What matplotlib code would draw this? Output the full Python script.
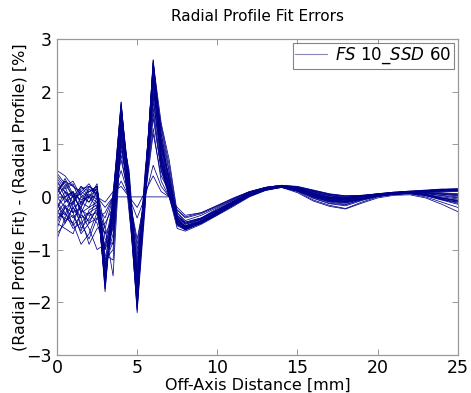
import matplotlib
matplotlib.use("Agg")
import matplotlib.pyplot as plt

# Off-axis distance knots [mm]
x_mm = [0, 0.5, 1, 1.5, 2, 2.5, 3, 3.5, 4, 4.5, 5, 5.5, 6, 6.5, 7, 7.5, 8,
        9, 10, 11, 12, 13, 14, 15, 16, 17, 18, 19, 20, 21, 22, 23, 24, 25]

err_01 = [0.10, 0.30, 0.00, -0.20, 0.20, 0.10, -1.80, 0.00, 1.80, 0.00, -2.20, 0.20, 2.60, 0.90, 0.10, -0.55, -0.62, -0.45, -0.30, -0.12, 0.05, 0.15, 0.20, 0.15, 0.05, -0.02, -0.05, 0.00, 0.05, 0.08, 0.10, 0.10, 0.12, 0.12]
err_02 = [-0.20, 0.10, -0.30, 0.00, -0.10, 0.20, -1.60, -0.20, 1.75, 0.20, -2.00, 0.00, 2.50, 1.00, 0.20, -0.50, -0.62, -0.50, -0.32, -0.15, 0.02, 0.14, 0.20, 0.16, 0.06, -0.04, -0.06, 0.00, 0.04, 0.07, 0.10, 0.08, 0.05, 0.02]
err_03 = [0.50, 0.40, 0.20, 0.10, 0.00, 0.15, -0.60, -1.50, 1.20, 0.30, -1.80, 0.30, 2.20, 1.30, 0.50, -0.40, -0.58, -0.48, -0.28, -0.10, 0.06, 0.16, 0.21, 0.17, 0.10, 0.03, -0.02, 0.02, 0.06, 0.09, 0.11, 0.13, 0.15, 0.15]
err_04 = [-0.80, -0.40, -0.50, -0.90, -0.70, -0.30, -1.20, -0.30, 1.50, 0.40, -1.90, -0.10, 2.30, 0.70, 0.00, -0.60, -0.65, -0.52, -0.35, -0.18, 0.00, 0.12, 0.18, 0.12, 0.00, -0.08, -0.10, -0.03, 0.02, 0.05, 0.06, 0.03, -0.05, -0.10]
err_05 = [0.00, -0.20, -0.10, 0.10, 0.25, 0.00, -1.00, -0.60, 1.60, 0.10, -1.60, 0.40, 2.40, 0.60, 0.00, -0.45, -0.55, -0.42, -0.25, -0.08, 0.08, 0.18, 0.22, 0.14, -0.02, -0.12, -0.15, -0.05, 0.03, 0.06, 0.08, 0.05, -0.02, -0.08]
err_06 = [-0.40, -0.30, -0.60, -0.50, -0.30, -0.20, -1.40, 0.10, 1.40, -0.20, -2.10, 0.00, 2.00, 1.10, 0.30, -0.50, -0.60, -0.50, -0.34, -0.16, 0.01, 0.13, 0.19, 0.10, -0.06, -0.16, -0.22, -0.10, 0.00, 0.05, 0.06, 0.00, -0.10, -0.20]
err_07 = [0.30, 0.00, 0.10, -0.30, -0.20, 0.10, -0.80, -0.90, 1.00, 0.00, -1.40, 0.20, 1.80, 0.80, 0.20, -0.35, -0.50, -0.40, -0.22, -0.06, 0.08, 0.17, 0.21, 0.18, 0.11, 0.04, 0.00, 0.02, 0.05, 0.08, 0.10, 0.12, 0.14, 0.15]
err_08 = [-0.10, -0.50, -0.20, -0.40, -0.90, -0.60, -0.50, -0.20, 0.80, -0.10, -1.20, 0.10, 1.60, 0.50, 0.00, -0.40, -0.55, -0.45, -0.30, -0.13, 0.04, 0.15, 0.20, 0.13, 0.02, -0.06, -0.08, -0.02, 0.03, 0.07, 0.09, 0.07, 0.02, -0.02]
err_09 = [0.20, 0.10, -0.10, 0.20, 0.00, -0.10, -1.50, -0.40, 1.70, 0.30, -1.70, 0.30, 2.55, 1.40, 0.70, -0.30, -0.48, -0.40, -0.25, -0.10, 0.06, 0.16, 0.20, 0.15, 0.05, -0.03, -0.04, 0.01, 0.05, 0.08, 0.10, 0.09, 0.08, 0.06]
err_10 = [-0.60, -0.20, -0.40, -0.20, -0.50, -0.40, -0.30, 0.00, 0.50, 0.00, -0.80, 0.00, 1.20, 0.40, 0.10, -0.30, -0.45, -0.35, -0.20, -0.05, 0.09, 0.18, 0.22, 0.20, 0.13, 0.06, 0.02, 0.03, 0.05, 0.07, 0.09, 0.11, 0.13, 0.14]
err_11 = [0.40, 0.20, 0.30, 0.00, 0.10, 0.20, -1.10, -1.20, 1.30, 0.50, -1.50, 0.50, 2.10, 0.90, 0.40, -0.40, -0.57, -0.46, -0.29, -0.11, 0.05, 0.15, 0.20, 0.12, 0.00, -0.10, -0.14, -0.06, 0.01, 0.05, 0.07, 0.04, -0.02, -0.06]
err_12 = [-0.30, -0.10, 0.00, -0.60, -0.40, 0.00, -0.20, 0.00, 0.30, 0.00, -0.40, 0.00, 0.60, 0.20, 0.00, -0.25, -0.40, -0.32, -0.18, -0.04, 0.09, 0.17, 0.21, 0.18, 0.10, 0.02, -0.02, 0.01, 0.04, 0.07, 0.09, 0.10, 0.11, 0.12]
err_13 = [0.00, 0.20, -0.20, -0.10, 0.15, 0.05, -1.70, -0.10, 1.65, -0.10, -2.15, -0.20, 2.45, 0.80, 0.00, -0.52, -0.60, -0.48, -0.31, -0.14, 0.03, 0.14, 0.19, 0.14, 0.04, -0.05, -0.08, -0.02, 0.03, 0.06, 0.08, 0.06, 0.03, 0.00]
err_14 = [-0.50, -0.60, -0.70, -0.30, -0.60, -1.00, -0.90, -0.10, 1.10, 0.20, -1.30, 0.20, 1.90, 0.60, 0.10, -0.45, -0.58, -0.50, -0.33, -0.16, 0.02, 0.13, 0.18, 0.11, -0.01, -0.09, -0.12, -0.04, 0.02, 0.05, 0.07, 0.02, -0.06, -0.14]
err_15 = [0.20, -0.10, 0.10, -0.10, 0.00, -0.20, -0.40, 0.00, 0.00, 0.00, 0.00, 0.00, 0.00, 0.00, 0.00, -0.20, -0.35, -0.30, -0.17, -0.03, 0.10, 0.18, 0.22, 0.19, 0.12, 0.05, 0.01, 0.02, 0.05, 0.08, 0.10, 0.12, 0.13, 0.14]
err_16 = [-0.20, 0.00, -0.30, -0.20, 0.10, 0.15, -1.30, -0.70, 1.55, 0.10, -1.85, 0.10, 2.35, 1.20, 0.30, -0.48, -0.60, -0.47, -0.30, -0.13, 0.04, 0.15, 0.20, 0.13, 0.03, -0.06, -0.09, -0.03, 0.02, 0.06, 0.08, 0.05, 0.00, -0.04]
err_17 = [0.10, 0.30, 0.20, 0.05, -0.10, 0.10, -1.55, -0.30, 1.60, 0.00, -2.05, 0.10, 2.40, 0.95, 0.15, -0.50, -0.61, -0.49, -0.31, -0.14, 0.03, 0.14, 0.20, 0.15, 0.06, -0.01, -0.04, 0.01, 0.05, 0.08, 0.10, 0.10, 0.11, 0.11]
err_18 = [-0.70, -0.50, -0.20, -0.50, -0.80, -0.40, -0.70, -0.40, 0.90, 0.10, -1.00, 0.00, 1.50, 0.50, 0.10, -0.38, -0.52, -0.43, -0.27, -0.11, 0.05, 0.15, 0.19, 0.11, -0.03, -0.13, -0.17, -0.07, 0.01, 0.05, 0.07, 0.03, -0.05, -0.12]
err_19 = [0.30, 0.10, 0.00, 0.20, 0.10, 0.20, -1.20, -1.00, 1.45, 0.40, -1.65, 0.40, 2.25, 1.05, 0.35, -0.42, -0.56, -0.45, -0.28, -0.10, 0.06, 0.16, 0.21, 0.16, 0.07, -0.01, -0.03, 0.02, 0.05, 0.08, 0.10, 0.11, 0.12, 0.13]
err_20 = [-0.10, -0.30, -0.50, -0.10, -0.20, -0.10, -1.60, -0.10, 1.70, 0.10, -1.95, 0.00, 2.50, 0.70, 0.05, -0.52, -0.63, -0.50, -0.33, -0.15, 0.02, 0.13, 0.19, 0.14, 0.03, -0.06, -0.09, -0.04, 0.01, 0.05, 0.07, 0.04, -0.03, -0.08]
err_21 = [0.00, 0.00, 0.10, -0.30, 0.00, 0.00, -0.10, 0.10, 0.20, 0.00, -0.20, 0.10, 0.40, 0.10, 0.00, -0.25, -0.38, -0.30, -0.16, -0.02, 0.10, 0.18, 0.22, 0.19, 0.12, 0.05, 0.02, 0.03, 0.06, 0.08, 0.10, 0.12, 0.14, 0.15]
err_22 = [-0.30, -0.40, -0.10, -0.40, -0.30, -0.50, -1.00, -0.20, 1.20, -0.30, -1.75, -0.10, 2.15, 0.80, 0.05, -0.47, -0.59, -0.49, -0.32, -0.15, 0.02, 0.13, 0.18, 0.08, -0.08, -0.18, -0.23, -0.12, -0.02, 0.03, 0.04, -0.02, -0.14, -0.28]
err_23 = [0.45, 0.25, 0.00, 0.05, 0.20, 0.05, -1.45, -0.50, 1.50, 0.20, -1.60, 0.30, 2.30, 1.35, 0.60, -0.35, -0.50, -0.42, -0.26, -0.09, 0.07, 0.17, 0.21, 0.17, 0.09, 0.02, -0.01, 0.02, 0.06, 0.09, 0.11, 0.12, 0.14, 0.15]
err_24 = [-0.50, -0.20, -0.30, -0.70, -0.50, -0.20, -0.60, 0.00, 0.70, 0.00, -0.90, 0.10, 1.30, 0.30, 0.00, -0.35, -0.48, -0.40, -0.24, -0.08, 0.07, 0.16, 0.20, 0.15, 0.06, -0.02, -0.05, 0.00, 0.04, 0.07, 0.09, 0.08, 0.07, 0.05]
err_25 = [0.35, 0.15, 0.25, -0.15, 0.05, -0.05, -1.65, 0.05, 1.75, 0.30, -2.10, 0.25, 2.55, 1.10, 0.25, -0.52, -0.62, -0.47, -0.31, -0.13, 0.04, 0.15, 0.21, 0.17, 0.08, 0.00, -0.03, 0.01, 0.05, 0.08, 0.10, 0.10, 0.10, 0.10]
err_26 = [-0.25, -0.45, -0.35, -0.65, -0.25, -0.15, -1.35, -0.45, 1.35, 0.05, -1.90, 0.05, 2.20, 0.65, 0.05, -0.50, -0.61, -0.49, -0.32, -0.14, 0.03, 0.14, 0.19, 0.12, 0.01, -0.08, -0.11, -0.05, 0.01, 0.05, 0.07, 0.03, -0.04, -0.10]
err_27 = [0.15, -0.05, -0.15, 0.15, 0.20, 0.10, -1.75, -0.05, 1.80, 0.05, -2.00, 0.15, 2.60, 1.20, 0.45, -0.44, -0.58, -0.46, -0.29, -0.12, 0.05, 0.15, 0.20, 0.16, 0.07, 0.00, -0.02, 0.01, 0.05, 0.08, 0.10, 0.11, 0.12, 0.13]
err_28 = [-0.45, -0.15, -0.55, -0.35, -0.45, -0.25, -0.95, -0.35, 1.25, 0.15, -1.45, 0.15, 1.95, 0.75, 0.15, -0.43, -0.56, -0.46, -0.30, -0.13, 0.03, 0.14, 0.19, 0.12, 0.02, -0.07, -0.10, -0.04, 0.02, 0.05, 0.07, 0.04, -0.02, -0.07]
err_29 = [0.05, 0.35, 0.05, -0.05, 0.00, 0.25, -1.25, -0.85, 1.55, 0.25, -1.75, 0.35, 2.45, 1.00, 0.30, -0.46, -0.58, -0.46, -0.29, -0.11, 0.05, 0.15, 0.20, 0.15, 0.05, -0.03, -0.06, 0.00, 0.04, 0.07, 0.09, 0.07, 0.05, 0.03]
err_30 = [-0.15, -0.35, 0.05, -0.25, -0.35, -0.30, -0.70, -0.60, 1.05, -0.05, -1.10, 0.05, 1.70, 0.55, 0.05, -0.38, -0.52, -0.42, -0.26, -0.09, 0.07, 0.16, 0.21, 0.14, 0.04, -0.04, -0.07, -0.01, 0.03, 0.07, 0.09, 0.08, 0.06, 0.04]

series = [err_01, err_02, err_03, err_04, err_05, err_06, err_07, err_08,
          err_09, err_10, err_11, err_12, err_13, err_14, err_15, err_16,
          err_17, err_18, err_19, err_20, err_21, err_22, err_23, err_24,
          err_25, err_26, err_27, err_28, err_29, err_30]

legend_label = r"$\mathit{FS}$ 10_$\mathit{SSD}$ 60"
title = "Radial Profile Fit Errors"
xlabel = "Off-Axis Distance [mm]"
ylabel = "(Radial Profile Fit) - (Radial Profile) [%]"
xticks = [0, 5, 10, 15, 20, 25]
yticks = [-3, -2, -1, 0, 1, 2, 3]

plt.rcParams['font.family'] = ['DejaVu Sans']
fig = plt.figure(figsize=(4.71, 3.93), dpi=100)
ax = fig.add_axes([0.121, 0.097, 0.851, 0.804])

line_color = '#00008B'
for i, s in enumerate(series):
    ax.plot(x_mm, s, color=line_color, lw=0.55,
            label=legend_label if i == 0 else None)

ax.set_xlim(0, 25)
ax.set_ylim(-3, 3)
ax.set_xticks(xticks)
ax.set_yticks(yticks)
ax.tick_params(direction='in', top=True, right=True, labelsize=12.5,
               length=4, width=0.6, color='#888888')
ax.tick_params(axis='x', pad=3)
ax.tick_params(axis='y', pad=4)
for sp in ax.spines.values():
    sp.set_color('#999999')
    sp.set_linewidth(0.9)

ax.set_title(title, fontsize=11, pad=13)
ax.set_xlabel(xlabel, fontsize=11.5, labelpad=0.5)
ax.set_ylabel(ylabel, fontsize=11.5, labelpad=-1)

leg = ax.legend(loc='upper right', fontsize=12, frameon=True, fancybox=False,
                handlelength=1.9, borderaxespad=0.25, borderpad=0.15,
                handletextpad=0.5)
leg.get_frame().set_edgecolor('#666666')
leg.get_frame().set_linewidth(0.8)
for h in leg.get_lines():
    h.set_color('#8888bb')
    h.set_linewidth(0.8)

fig.savefig('out.png', dpi=100)
